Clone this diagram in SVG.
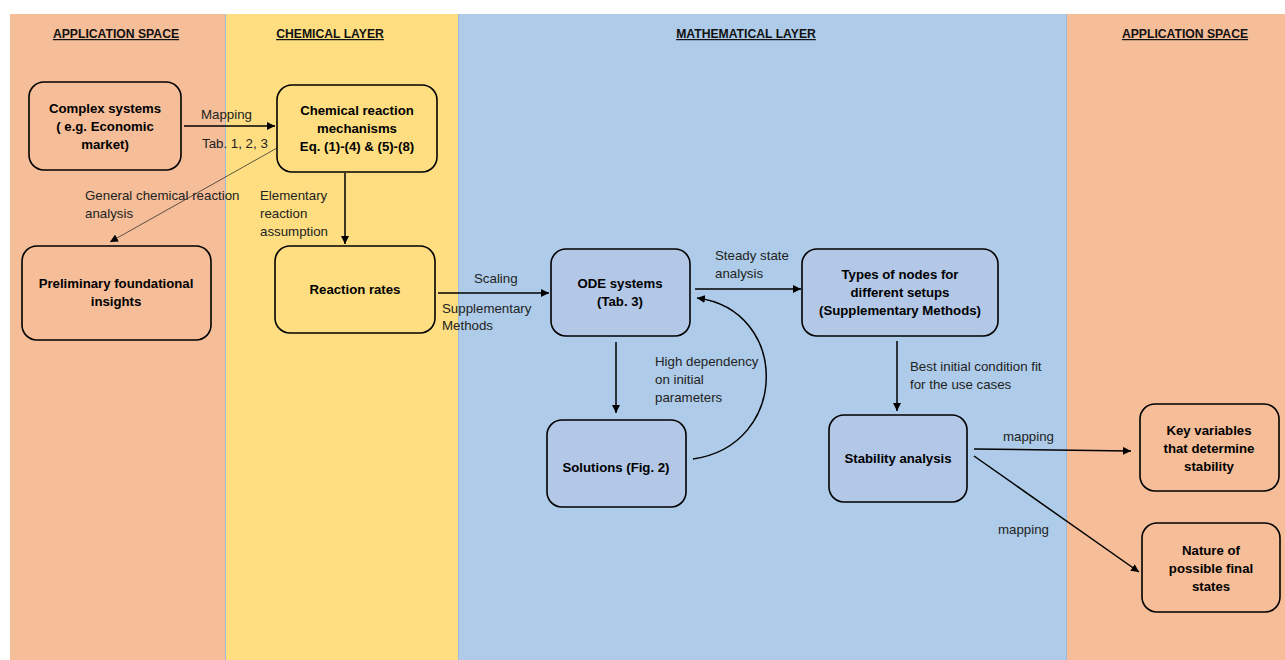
<svg xmlns="http://www.w3.org/2000/svg" width="1285" height="660" viewBox="0 0 1285 660">
<style>
.hdr{font-family:"Liberation Sans",Arial,sans-serif;font-size:12.2px;font-weight:bold;fill:#111;text-anchor:middle;text-decoration:underline}
.node rect{stroke:#000;stroke-width:1.6}
.ntxt{font-family:"Liberation Sans",Arial,sans-serif;font-size:13.2px;font-weight:bold;fill:#000;text-anchor:middle}
.lbl{font-family:"Liberation Sans",Arial,sans-serif;font-size:13.3px;fill:#222}
.or{fill:#F5BD98}.ye{fill:#FEDE81}.bl{fill:#B3C7E6}
.c{stroke:#000;stroke-width:1.5;fill:none;marker-end:url(#ah)}
.ct{stroke:#333;stroke-width:0.8;fill:none;marker-end:url(#ah)}
</style>
<defs>
<marker id="ah" viewBox="0 0 10 10" refX="10" refY="5" markerWidth="8" markerHeight="8" markerUnits="userSpaceOnUse" orient="auto">
<path d="M0,0 L10,5 L0,10 z" fill="#000"/>
</marker>
</defs>
<rect width="1285" height="660" fill="#fff"/>
<g id="bands">
<rect x="10" y="14" width="215" height="646" fill="#F5BD98"/>
<rect x="225" y="14" width="233" height="646" fill="#FEDE81"/>
<rect x="458" y="14" width="608" height="646" fill="#AECCE9"/>
<rect x="1066" y="14" width="219" height="646" fill="#F5BD98"/>
<line x1="225.5" y1="14" x2="225.5" y2="660" stroke="#9FB9DA" stroke-width="1"/>
<line x1="458.5" y1="14" x2="458.5" y2="660" stroke="#9FB9DA" stroke-width="1"/>
<line x1="1066.5" y1="14" x2="1066.5" y2="660" stroke="#9FB9DA" stroke-width="1"/>
<text class="hdr" x="116" y="38">APPLICATION SPACE</text>
<text class="hdr" x="330" y="38">CHEMICAL LAYER</text>
<text class="hdr" x="746" y="38">MATHEMATICAL LAYER</text>
<text class="hdr" x="1185" y="38">APPLICATION SPACE</text>
</g>
<g id="connectors">
<line class="c" x1="184" y1="126" x2="275" y2="126"/>
<line class="ct" x1="277" y1="148" x2="110" y2="242"/>
<line class="c" x1="345" y1="173" x2="345" y2="244"/>
<line class="c" x1="438" y1="293" x2="549" y2="293"/>
<line class="c" x1="616" y1="342" x2="616" y2="413"/>
<path class="c" d="M693,459 C790,445 790,310 697,298"/>
<line class="c" x1="695" y1="289" x2="801" y2="289"/>
<line class="c" x1="897" y1="341" x2="897" y2="411"/>
<line class="c" x1="974" y1="449" x2="1131" y2="451"/>
<line class="c" x1="974" y1="456" x2="1139" y2="572"/>
<text class="lbl" x="201" y="119">Mapping</text>
<text class="lbl" x="202" y="148">Tab. 1, 2, 3</text>
<text class="lbl" x="85" y="200">General chemical reaction</text>
<text class="lbl" x="85" y="218">analysis</text>
<text class="lbl" x="260" y="200">Elementary</text>
<text class="lbl" x="260" y="218">reaction</text>
<text class="lbl" x="260" y="236">assumption</text>
<text class="lbl" x="474" y="283">Scaling</text>
<text class="lbl" x="442" y="313">Supplementary</text>
<text class="lbl" x="442" y="330">Methods</text>
<text class="lbl" x="655" y="366">High dependency</text>
<text class="lbl" x="655" y="384">on initial</text>
<text class="lbl" x="655" y="402">parameters</text>
<text class="lbl" x="715" y="260">Steady state</text>
<text class="lbl" x="715" y="278">analysis</text>
<text class="lbl" x="910" y="371">Best initial condition fit</text>
<text class="lbl" x="910" y="389">for the use cases</text>
<text class="lbl" x="1003" y="441">mapping</text>
<text class="lbl" x="998" y="534">mapping</text>
</g>
<g id="n1" class="node"><rect class="or" x="29" y="82" width="152" height="88" rx="15"/>
<text class="ntxt" x="105" y="113">Complex systems</text><text class="ntxt" x="105" y="131">( e.g. Economic</text><text class="ntxt" x="105" y="149">market)</text></g>
<g id="n2" class="node"><rect class="ye" x="277" y="85" width="160" height="87" rx="15"/>
<text class="ntxt" x="357" y="115">Chemical reaction</text><text class="ntxt" x="357" y="133">mechanisms</text><text class="ntxt" x="357" y="151">Eq. (1)-(4) &amp; (5)-(8)</text></g>
<g id="n3" class="node"><rect class="or" x="22" y="246" width="189" height="94" rx="15"/>
<text class="ntxt" x="116" y="288">Preliminary foundational</text><text class="ntxt" x="116" y="306">insights</text></g>
<g id="n4" class="node"><rect class="ye" x="275" y="246" width="160" height="87" rx="15"/>
<text class="ntxt" x="355" y="294">Reaction rates</text></g>
<g id="n5" class="node"><rect class="bl" x="551" y="249" width="139" height="87" rx="15"/>
<text class="ntxt" x="620" y="288">ODE systems</text><text class="ntxt" x="620" y="306">(Tab. 3)</text></g>
<g id="n6" class="node"><rect class="bl" x="547" y="420" width="139" height="87" rx="15"/>
<text class="ntxt" x="616" y="472">Solutions (Fig. 2)</text></g>
<g id="n7" class="node"><rect class="bl" x="802" y="249" width="196" height="87" rx="15"/>
<text class="ntxt" x="900" y="279">Types of nodes for</text><text class="ntxt" x="900" y="297">different setups</text><text class="ntxt" x="900" y="315">(Supplementary Methods)</text></g>
<g id="n8" class="node"><rect class="bl" x="829" y="415" width="138" height="87" rx="15"/>
<text class="ntxt" x="898" y="463">Stability analysis</text></g>
<g id="n9" class="node"><rect class="or" x="1140" y="404" width="139" height="87" rx="15"/>
<text class="ntxt" x="1209" y="435">Key variables</text><text class="ntxt" x="1209" y="453">that determine</text><text class="ntxt" x="1209" y="471">stability</text></g>
<g id="n10" class="node"><rect class="or" x="1142" y="523" width="138" height="89" rx="15"/>
<text class="ntxt" x="1211" y="555">Nature of</text><text class="ntxt" x="1211" y="573">possible final</text><text class="ntxt" x="1211" y="591">states</text></g>
</svg>
